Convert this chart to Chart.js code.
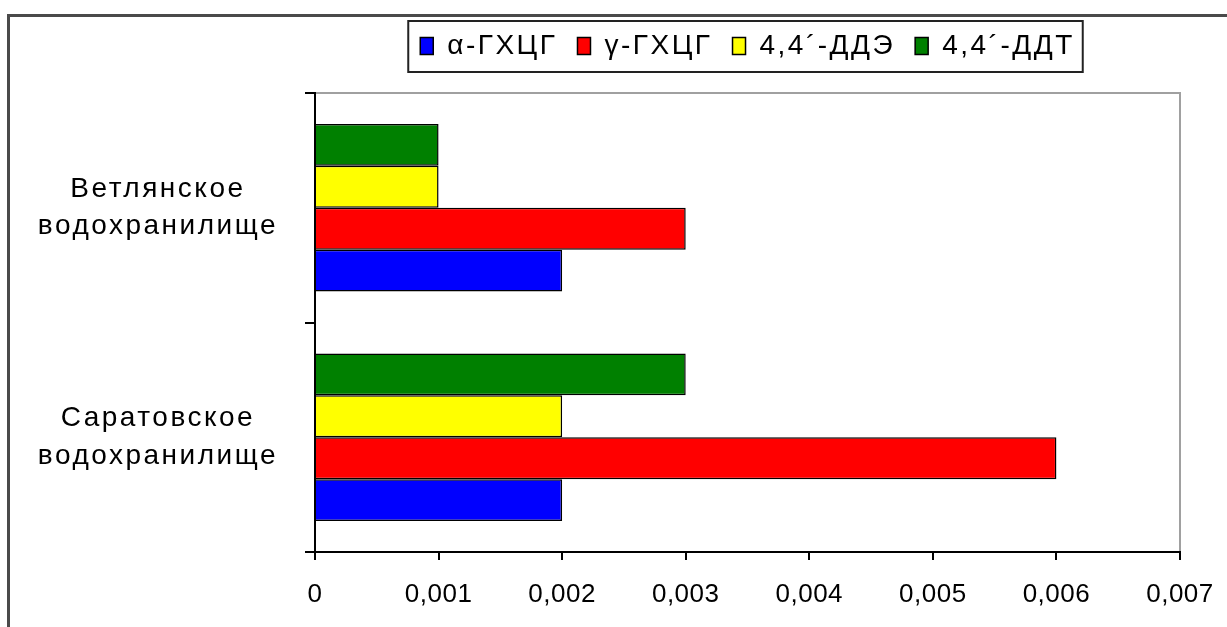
<!DOCTYPE html>
<html>
<head>
<meta charset="utf-8">
<script src="https://cdn.jsdelivr.net/npm/chart.js@4/dist/chart.umd.min.js"></script>
<style>
  body { margin: 0; background: #fff; }
  canvas { display: block; }
</style>
</head>
<body>
<canvas id="myChart" width="1227" height="627"></canvas>
<script>
const categories = [["Ветлянское", "водохранилище"], ["Саратовское", "водохранилище"]];
const seriesNames = ["α-ГХЦГ", "γ-ГХЦГ", "4,4´-ДДЭ", "4,4´-ДДТ"];
const alphaHCH = [0.002, 0.002];
const gammaHCH = [0.003, 0.006];
const dde = [0.001, 0.002];
const ddt = [0.001, 0.003];
const xMax = 0.007;
const xStep = 0.001;

const font = "'Liberation Sans', Arial, sans-serif";

// outer frame, plot border, legend box
const decor = {
	id: "decor",
	beforeUpdate(chart) {
		chart.ctx.letterSpacing = "2.5px";
	},
	afterLayout(chart) {
		const lg = chart.legend;
		const ca = chart.chartArea;
		lg.left = ca.left;
		lg.right = ca.right;
		lg.width = ca.right - ca.left;
		const p = lg.options.labels.padding;
		lg.top = 32 - p;
		lg.bottom = lg.top + lg.height;
		const xs = chart.scales.x;
		if (!xs._patched) {
			const orig = xs.drawLabels;
			xs.drawLabels = function(a) {
				const c = this.ctx;
				const old = c.letterSpacing;
				c.letterSpacing = "0.5px";
				orig.call(this, a);
				c.letterSpacing = old;
			};
			xs._patched = true;
		}
	},
	beforeDraw(chart) {
		const ctx = chart.ctx;
		ctx.save();
		ctx.strokeStyle = "#4a4a4a";
		ctx.lineWidth = 3;
		ctx.beginPath();
		ctx.moveTo(8.5, 627);
		ctx.lineTo(8.5, 15.5);
		ctx.lineTo(1227, 15.5);
		ctx.stroke();
		const ca = chart.chartArea;
		ctx.strokeStyle = "#a0a0a0";
		ctx.lineWidth = 2;
		ctx.beginPath();
		ctx.moveTo(ca.left, ca.top);
		ctx.lineTo(ca.right, ca.top);
		ctx.lineTo(ca.right, ca.bottom);
		ctx.stroke();
		ctx.restore();
	},
	afterDraw(chart) {
		const hb = chart.legend.legendHitBoxes;
		if (!hb || !hb.length) return;
		const first = hb[0], last = hb[hb.length - 1];
		const cy = first.top + first.height / 2;
		const ctx = chart.ctx;
		ctx.save();
		ctx.strokeStyle = "#222";
		ctx.lineWidth = 2;
		ctx.strokeRect(first.left - 12, cy - 25, last.left + last.width + 8 - (first.left - 12), 51);
		ctx.restore();
	}
};

const config = {
	type: "bar",
	data: {
		labels: categories,
		datasets: [{
			label: seriesNames[3],
			data: ddt,
			backgroundColor: "#008000"
		}, {
			label: seriesNames[2],
			data: dde,
			backgroundColor: "#ffff00"
		}, {
			label: seriesNames[1],
			data: gammaHCH,
			backgroundColor: "#ff0000"
		}, {
			label: seriesNames[0],
			data: alphaHCH,
			backgroundColor: "#0000ff"
		}]
	},
	options: {
		indexAxis: "y",
		responsive: false,
		animation: false,
		devicePixelRatio: 1,
		layout: { padding: { top: 35, right: 47, bottom: 0, left: 0 } },
		datasets: {
			bar: {
				borderColor: "#000",
				borderWidth: 1.5,
				categoryPercentage: 0.73,
				barPercentage: 1
			}
		},
		plugins: {
			tooltip: { enabled: false },
			legend: {
				position: "top",
				reverse: true,
				labels: {
					boxWidth: 13,
					boxHeight: 17,
					padding: 20,
					color: "#000",
					font: { family: font, size: 28 }
				}
			}
		},
		scales: {
			x: {
				min: 0,
				max: xMax,
				afterFit(scale) {
					scale.height = 75;
					scale.paddingRight = 0;
					scale.paddingLeft = 0;
				},
				ticks: {
					stepSize: xStep,
					padding: 19,
					color: "#000",
					font: { family: font, size: 26 },
					callback: (v) => v === 0 ? "0" : v.toFixed(3).replace(".", ",")
				},
				grid: { drawOnChartArea: false, tickLength: 8, color: "#000", lineWidth: 2 },
				border: { color: "#000", width: 2 }
			},
			y: {
				afterFit(scale) { scale.width = 315; },
				ticks: {
					padding: 27,
					crossAlign: "center",
					color: "#000",
					font: { family: font, size: 28, lineHeight: 1.35 }
				},
				grid: { offset: true, drawOnChartArea: false, tickLength: 10, color: "#000", lineWidth: 2 },
				border: { color: "#000", width: 2 }
			}
		}
	},
	plugins: [decor]
};

let chart = new Chart("myChart", config);
</script>
</body>
</html>
